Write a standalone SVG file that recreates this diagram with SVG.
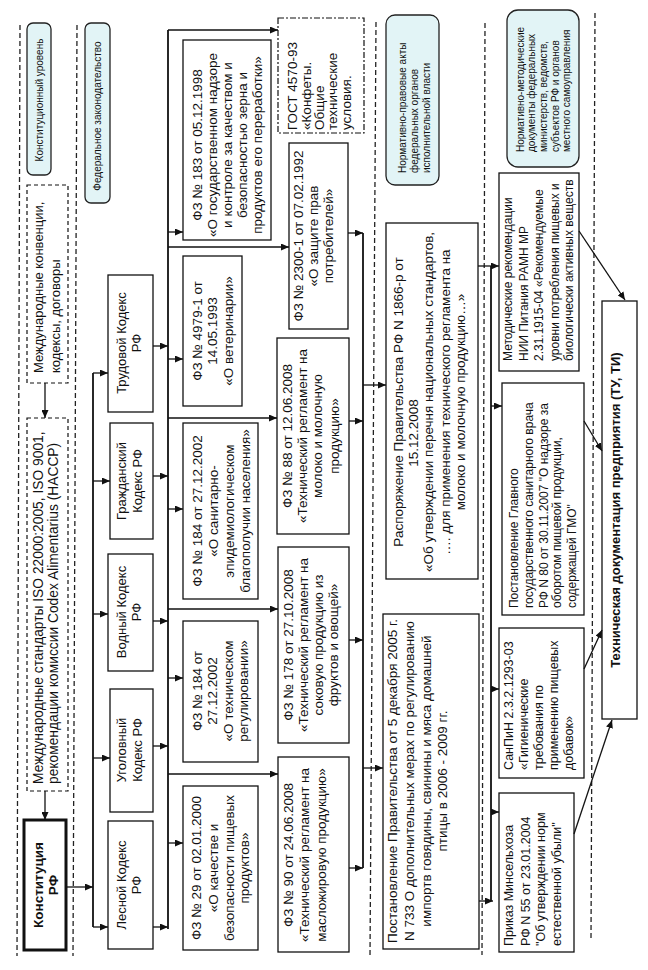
<svg xmlns="http://www.w3.org/2000/svg" width="648" height="970" viewBox="0 0 648 970">
<defs>
<marker id="ah" markerUnits="userSpaceOnUse" markerWidth="8" markerHeight="7" refX="8" refY="3.5" orient="auto"><path d="M0,0 L8,3.5 L0,7 z" fill="#111"/></marker>
<style>
.box{fill:#fff;stroke:#111;stroke-width:1.3}
.bold{fill:#fff;stroke:#111;stroke-width:3}
.dbox{fill:#fff;stroke:#111;stroke-width:1.2;stroke-dasharray:4 3}
.ddbox{fill:#fff;stroke:#111;stroke-width:1.2;stroke-dasharray:6 2 2 2}
.lbl{fill:#e2f4f6;stroke:#222;stroke-width:1.3}
.sep{stroke:#222;stroke-width:1.3;stroke-dasharray:5 3;fill:none}
.t{font-family:"Liberation Sans",Arial,sans-serif;font-size:13.5px;fill:#111}
.s{font-size:10px}
.m{font-size:12px}
.b{font-weight:bold}
.c{stroke:#111;stroke-width:1.3;fill:none}
.bus{stroke:#111;stroke-width:1.8;fill:none}
.a{marker-end:url(#ah)}
</style>
</defs>
<rect width="648" height="970" fill="#fff"/>
<g id="separators">
<line class="sep" x1="20" y1="25" x2="17" y2="956"/>
<line class="sep" x1="77" y1="25" x2="73" y2="956"/>
<line class="sep" x1="376" y1="22" x2="370" y2="956"/>
<line class="sep" x1="485" y1="23" x2="482" y2="955"/>
<line class="sep" x1="595" y1="13" x2="591" y2="939"/>
</g>
<g id="lbl-const">
<rect class="lbl" x="27" y="23" width="24" height="152" rx="6"/>
<text class="t s" text-anchor="middle" transform="translate(42.5,100) rotate(-90)">Конституционный уровень</text>
</g>
<g id="lbl-fed">
<rect class="lbl" x="85" y="23" width="25" height="180" rx="6"/>
<text class="t s" text-anchor="middle" transform="translate(101,116) rotate(-90)">Федеральное законодательство</text>
</g>
<g id="lbl-norm">
<rect class="lbl" x="386" y="15" width="53" height="170" rx="9"/>
<text class="t s" transform="translate(406.2,173) rotate(-90)"><tspan x="0" y="0">Нормативно-правовые акты</tspan><tspan x="0" y="11.7">федеральных органов</tspan><tspan x="0" y="23.4">исполнительной власти</tspan></text>
</g>
<g id="lbl-method">
<rect class="lbl" x="507" y="10" width="72" height="157" rx="11"/>
<text class="t s" transform="translate(523.5,152) rotate(-90)"><tspan x="0" y="0">Нормативно-методические</tspan><tspan x="0" y="11.7">документы федеральных</tspan><tspan x="0" y="23.4">министерств, ведомств,</tspan><tspan x="0" y="35.1">субъектов РФ и органов</tspan><tspan x="0" y="46.8">местного самоуправления</tspan></text>
</g>
<g id="intl-conv">
<rect class="dbox" x="27" y="185" width="41" height="198"/>
<text class="t" style="font-size:13px" transform="translate(43,373) rotate(-90)"><tspan x="0" y="0">Международные конвенции,</tspan><tspan x="0" y="16.5">кодексы, договоры</tspan></text>
</g>
<g id="intl-std">
<rect class="dbox" x="27" y="418" width="41" height="373"/>
<text class="t" style="font-size:13.8px" transform="translate(43,784) rotate(-90)"><tspan x="0" y="0">Международные стандарты ISO 22000:2005, ISO 9001,</tspan><tspan x="0" y="15">рекомендации комиссии Codex Alimentarius (HACCP)</tspan></text>
</g>
<g id="constitution">
<rect class="bold" x="24" y="820" width="42" height="130"/>
<text class="t b" text-anchor="middle" transform="translate(43,885) rotate(-90)"><tspan x="0" y="0">Конституция</tspan><tspan x="0" y="15">РФ</tspan></text>
</g>
<g id="k-trud">
<rect class="box" x="108" y="275" width="45" height="137"/>
<text class="t" style="font-size:13px" text-anchor="middle" transform="translate(125.5,343) rotate(-90)"><tspan x="0" y="0">Трудовой Кодекс</tspan><tspan x="0" y="15.5">РФ</tspan></text>
</g>
<g id="k-grazh">
<rect class="box" x="110" y="423" width="43" height="116"/>
<text class="t" style="font-size:13px" text-anchor="middle" transform="translate(126,481) rotate(-90)"><tspan x="0" y="0">Гражданский</tspan><tspan x="0" y="15.5">Кодекс РФ</tspan></text>
</g>
<g id="k-vod">
<rect class="box" x="108" y="554" width="45" height="117"/>
<text class="t" style="font-size:13px" text-anchor="middle" transform="translate(125.5,612) rotate(-90)"><tspan x="0" y="0">Водный Кодекс</tspan><tspan x="0" y="15.5">РФ</tspan></text>
</g>
<g id="k-ugol">
<rect class="box" x="110" y="689" width="43" height="123"/>
<text class="t" style="font-size:13px" text-anchor="middle" transform="translate(126,750) rotate(-90)"><tspan x="0" y="0">Уголовный</tspan><tspan x="0" y="15.5">Кодекс РФ</tspan></text>
</g>
<g id="k-les">
<rect class="box" x="108" y="821" width="45" height="128"/>
<text class="t" style="font-size:13px" text-anchor="middle" transform="translate(125.5,885) rotate(-90)"><tspan x="0" y="0">Лесной Кодекс</tspan><tspan x="0" y="15.5">РФ</tspan></text>
</g>
<g id="fz183">
<rect class="box" x="183" y="40" width="88" height="200"/>
<text class="t" text-anchor="middle" transform="translate(201.7,145) rotate(-90)"><tspan x="0" y="0">ФЗ № 183 от 05.12.1998</tspan><tspan x="0" y="15">«О государственном надзоре</tspan><tspan x="0" y="30">и контроле за качеством и</tspan><tspan x="0" y="45">безопасностью зерна и</tspan><tspan x="0" y="60">продуктов его переработки»</tspan></text>
</g>
<g id="fz4979">
<rect class="box" x="183" y="256" width="59" height="150"/>
<text class="t" text-anchor="middle" transform="translate(201.7,331) rotate(-90)"><tspan x="0" y="0">ФЗ № 4979-1 от</tspan><tspan x="0" y="15">14.05.1993</tspan><tspan x="0" y="31">«О ветеринарии»</tspan></text>
</g>
<g id="fz184san">
<rect class="box" x="183" y="423" width="75" height="176"/>
<text class="t" text-anchor="middle" transform="translate(201.5,511) rotate(-90)"><tspan x="0" y="0">ФЗ № 184 от 27.12.2002</tspan><tspan x="0" y="16">«О санитарно-</tspan><tspan x="0" y="32">эпидемиологическом</tspan><tspan x="0" y="48.5">благополучии населения»</tspan></text>
</g>
<g id="fz184tech">
<rect class="box" x="183" y="621" width="75" height="141"/>
<text class="t" text-anchor="middle" transform="translate(201.7,691) rotate(-90)"><tspan x="0" y="0">ФЗ № 184 от</tspan><tspan x="0" y="15.5">27.12.2002</tspan><tspan x="0" y="31">«О техническом</tspan><tspan x="0" y="46.5">регулировании»</tspan></text>
</g>
<g id="fz29">
<rect class="box" x="183" y="786" width="75" height="164"/>
<text class="t" text-anchor="middle" transform="translate(201.4,868) rotate(-90)"><tspan x="0" y="0">ФЗ № 29 от 02.01.2000</tspan><tspan x="0" y="16.5">«О качестве и</tspan><tspan x="0" y="32.5">безопасности пищевых</tspan><tspan x="0" y="47.5">продуктов»</tspan></text>
</g>
<g id="gost">
<rect class="ddbox" x="278" y="18" width="86" height="115"/>
<text class="t" transform="translate(297.4,130) rotate(-90)"><tspan x="0" y="0">ГОСТ 4570-93</tspan><tspan x="0" y="13.3">«Конфеты.</tspan><tspan x="0" y="26.6">Общие</tspan><tspan x="0" y="39.9">технические</tspan><tspan x="0" y="53.2">условия.</tspan></text>
</g>
<g id="fz2300">
<rect class="box" x="289" y="143" width="59" height="186"/>
<text class="t" text-anchor="middle" transform="translate(302.7,236) rotate(-90)"><tspan x="0" y="0">ФЗ № 2300-1 от 07.02.1992</tspan><tspan x="0" y="15">«О защите прав</tspan><tspan x="0" y="30">потребителей»</tspan></text>
</g>
<g id="fz88">
<rect class="box" x="277" y="338" width="72" height="196"/>
<text class="t" text-anchor="middle" transform="translate(292.4,436) rotate(-90)"><tspan x="0" y="0">ФЗ № 88 от 12.06.2008</tspan><tspan x="0" y="15">«Технический регламент на</tspan><tspan x="0" y="30">молоко и молочную</tspan><tspan x="0" y="46.6">продукцию»</tspan></text>
</g>
<g id="fz178">
<rect class="box" x="278" y="547" width="71" height="196"/>
<text class="t" text-anchor="middle" transform="translate(292.7,645) rotate(-90)"><tspan x="0" y="0">ФЗ № 178 от 27.10.2008</tspan><tspan x="0" y="15">«Технический регламент на</tspan><tspan x="0" y="30">соковую продукцию из</tspan><tspan x="0" y="45">фруктов и овощей»</tspan></text>
</g>
<g id="fz90">
<rect class="box" x="278" y="757" width="71" height="195"/>
<text class="t" text-anchor="middle" transform="translate(292.7,855) rotate(-90)"><tspan x="0" y="0">ФЗ № 90 от 24.06.2008</tspan><tspan x="0" y="16">«Технический регламент на</tspan><tspan x="0" y="33">масложировую продукцию»</tspan></text>
</g>
<g id="rasp1866">
<rect class="box" x="386" y="223" width="92" height="356"/>
<text class="t" text-anchor="middle" transform="translate(402.7,402) rotate(-90)"><tspan x="0" y="0">Распоряжение Правительства РФ N 1866-р от</tspan><tspan x="-31" y="15">15.12.2008</tspan><tspan x="0" y="30">«Об утверждении перечня национальных стандартов,</tspan><tspan x="0" y="47">…. для применения технического регламента на</tspan><tspan x="0" y="62">молоко  и молочную продукцию…»</tspan></text>
</g>
<g id="post733">
<rect class="box" x="383" y="614" width="96" height="335"/>
<text class="t" text-anchor="middle" transform="translate(397.4,781) rotate(-90)"><tspan x="0" y="0">Постановление Правительства от 5 декабря 2005 г.</tspan><tspan x="0" y="16.6">N 733 О дополнительных мерах по регулированию</tspan><tspan x="0" y="33.3">импортв говядины, свинины и мяса домашней</tspan><tspan x="0" y="49.3">птицы в 2006 - 2009 гг.</tspan></text>
</g>
<g id="metod">
<rect class="box" x="499" y="173" width="80" height="198"/>
<text class="t m" transform="translate(512.2,361) rotate(-90)"><tspan x="0" y="0">Методические рекомендации</tspan><tspan x="0" y="15.7">НИИ Питания РАМН МР</tspan><tspan x="0" y="30.7">2.31.1915-04 «Рекомендуемые</tspan><tspan x="0" y="47.3">уровни потребления пищевых и</tspan><tspan x="0" y="60.7">биологически активных веществ</tspan></text>
</g>
<g id="post-gmo">
<rect class="box" x="502" y="383" width="82" height="232"/>
<text class="t m" transform="translate(517.9,608) rotate(-90)"><tspan x="0" y="0">Постановление Главного</tspan><tspan x="0" y="15">государственного санитарного врача</tspan><tspan x="0" y="30">РФ N 80 от 30.11.2007 "О надзоре за</tspan><tspan x="0" y="43.3">оборотом пищевой продукции,</tspan><tspan x="0" y="58.3">содержащей ГМО"</tspan></text>
</g>
<g id="sanpin">
<rect class="box" x="499" y="628" width="85" height="150"/>
<text class="t" style="font-size:12.5px" transform="translate(513,770) rotate(-90)"><tspan x="0" y="0">СанПиН 2.3.2.1293-03</tspan><tspan x="0" y="15">«Гигиенические</tspan><tspan x="0" y="30">требования по</tspan><tspan x="0" y="45">применению пищевых</tspan><tspan x="0" y="60">добавок»</tspan></text>
</g>
<g id="prikaz">
<rect class="box" x="499" y="793" width="75" height="159"/>
<text class="t" style="font-size:12.5px" transform="translate(513,946) rotate(-90)"><tspan x="0" y="0">Приказ Минсельхоза</tspan><tspan x="0" y="16.6">РФ N 55 от 23.01.2004</tspan><tspan x="0" y="31.6">"Об утверждении норм</tspan><tspan x="0" y="48.3">естественной убыли"</tspan></text>
</g>
<g id="techdoc">
<rect class="box" x="602" y="301" width="35" height="418"/>
<text class="t b" style="font-size:13px" text-anchor="middle" transform="translate(620,510) rotate(-90)">Техническая  документация предприятия (ТУ, ТИ)</text>
</g>
<g id="connectors">
<line class="c a" x1="45" y1="383" x2="45" y2="418"/>
<line class="c a" x1="45" y1="791" x2="45" y2="820"/>
<line class="c a" x1="66" y1="887" x2="93" y2="887"/>
<line class="bus" x1="93" y1="373" x2="93" y2="927"/>
<line class="c a" x1="93" y1="373" x2="108" y2="373"/>
<line class="c a" x1="93" y1="481" x2="110" y2="481"/>
<line class="c a" x1="93" y1="614" x2="108" y2="614"/>
<line class="c a" x1="93" y1="758" x2="110" y2="758"/>
<line class="c a" x1="93" y1="927" x2="108" y2="927"/>
<line class="c a" x1="153" y1="346" x2="168" y2="346"/>
<line class="c a" x1="153" y1="476" x2="168" y2="476"/>
<line class="c a" x1="153" y1="621" x2="168" y2="621"/>
<line class="c a" x1="153" y1="746" x2="168" y2="746"/>
<line class="c a" x1="153" y1="927" x2="168" y2="927"/>
<line class="bus" x1="168" y1="30" x2="168" y2="929"/>
<line class="c a" x1="168" y1="30" x2="278" y2="30"/>
<line class="c a" x1="168" y1="232" x2="183" y2="232"/>
<line class="c a" x1="168" y1="247" x2="289" y2="247"/>
<line class="c a" x1="168" y1="359" x2="183" y2="359"/>
<line class="c a" x1="168" y1="418" x2="277" y2="418"/>
<line class="c a" x1="168" y1="509" x2="183" y2="509"/>
<line class="c a" x1="168" y1="609" x2="278" y2="609"/>
<line class="c a" x1="168" y1="678" x2="183" y2="678"/>
<line class="c a" x1="168" y1="774" x2="278" y2="774"/>
<line class="c a" x1="168" y1="843" x2="183" y2="843"/>
<line class="c a" x1="348" y1="233" x2="363" y2="233"/>
<line class="c a" x1="349" y1="421" x2="363" y2="421"/>
<line class="c a" x1="349" y1="640" x2="363" y2="640"/>
<line class="c a" x1="349" y1="868" x2="363" y2="868"/>
<line class="bus" x1="363" y1="233" x2="363" y2="868"/>
<line class="c a" x1="363" y1="385" x2="386" y2="385"/>
<line class="c a" x1="363" y1="768" x2="383" y2="768"/>
<line class="c a" x1="478" y1="266" x2="499" y2="266"/>
<line class="bus" x1="491" y1="266" x2="491" y2="901"/>
<line class="c a" x1="491" y1="406" x2="502" y2="406"/>
<line class="c a" x1="491" y1="689" x2="499" y2="689"/>
<line class="c a" x1="491" y1="812" x2="499" y2="812"/>
<line class="c a" x1="479" y1="901" x2="493" y2="901"/>
<line class="c a" x1="579" y1="231" x2="625" y2="300"/>
<line class="c a" x1="584" y1="421" x2="602" y2="451"/>
<line class="c a" x1="584" y1="669" x2="602" y2="630"/>
<line class="c a" x1="574" y1="834" x2="612" y2="720"/>
</g>
</svg>
